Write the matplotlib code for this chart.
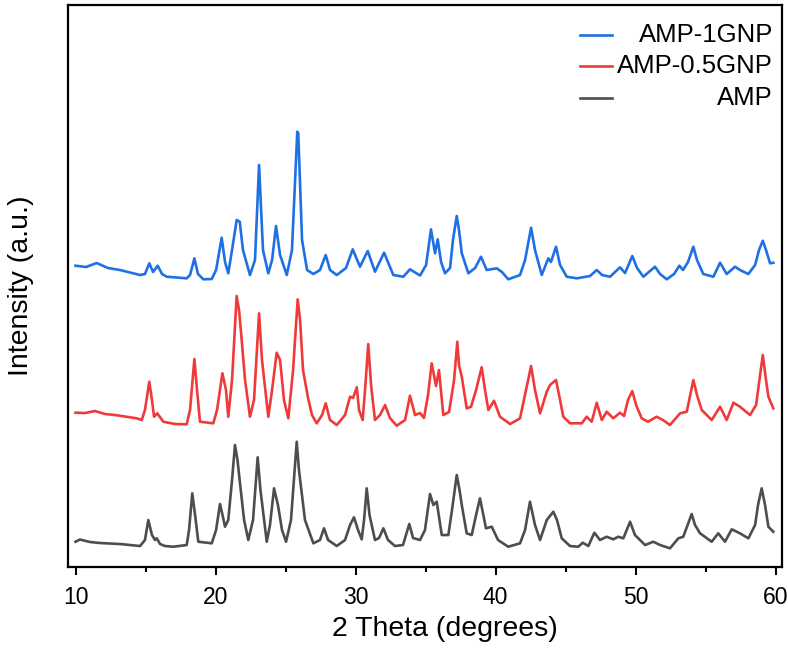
import matplotlib
matplotlib.use('Agg')
import matplotlib.pyplot as plt

plt.rcParams['font.family'] = ['Liberation Sans', 'DejaVu Sans']

# 2 theta (deg) and intensity (a.u., curves already stacked as in the figure)
theta_1gnp = [10.0, 10.75, 11.51, 12.32, 13.18, 14.61, 14.96, 15.27, 15.54, 15.87, 16.18, 16.51,
              17.94, 18.18, 18.49, 18.75, 19.13, 19.73, 20.04, 20.44, 20.68, 20.91, 21.18, 21.51,
              21.73, 21.96, 22.46, 22.82, 23.11, 23.39, 23.77, 24.04, 24.32, 24.61, 25.09, 25.46,
              25.84, 25.91, 26.18, 26.54, 26.99, 27.46, 27.87, 28.18, 28.66, 29.32, 29.80, 30.32,
              30.87, 31.39, 32.04, 32.70, 33.41, 33.89, 34.61, 35.04, 35.39, 35.68, 35.87, 36.11,
              36.39, 36.75, 36.96, 37.23, 37.39, 37.59, 38.06, 38.54, 38.96, 39.37, 40.09, 40.46,
              40.91, 41.75, 42.11, 42.54, 42.82, 43.30, 43.77, 43.96, 44.32, 44.61, 45.09, 45.80,
              46.75, 47.23, 47.61, 48.18, 48.89, 49.25, 49.77, 50.11, 50.56, 51.39, 51.75, 52.23,
              52.75, 53.13, 53.39, 53.75, 54.13, 54.39, 54.84, 55.56, 56.04, 56.51, 57.11, 57.46,
              58.06, 58.54, 58.82, 59.09, 59.32, 59.61, 59.84]
int_1gnp = [301.3, 300, 304, 299, 297, 292, 293, 303.7, 295, 301.3, 293, 290.3,
            288.7, 292, 308.7, 293, 287.7, 288, 297, 329.3, 305, 293.7, 317, 347,
            345.3, 317, 292, 307, 402, 317, 293.7, 307, 341, 312, 292, 317,
            435.3, 433.7, 327, 297, 293, 297, 312, 297, 292, 299, 317.7, 300.3,
            316, 295.3, 314.3, 292, 290.3, 297.7, 291.5, 302, 337.7, 313.7, 327.7, 305,
            293.7, 299, 327, 351, 337, 313.7, 293.7, 299, 310.3, 297, 298.7, 295,
            287.7, 292, 307, 339.3, 317, 292, 308.7, 305, 320.3, 302, 290.3, 288.7,
            291, 297, 292, 290.3, 299.7, 294, 311, 299, 290.3, 300.3, 293, 287.7,
            293, 301.3, 297, 305, 320.3, 307, 293, 290.3, 304.3, 293, 300.3, 297,
            293, 302, 317, 326.3, 317, 303.7, 304.3]

theta_05gnp = [10.0, 10.68, 11.39, 12.11, 12.82, 14.37, 14.73, 14.96, 15.27, 15.46, 15.61, 15.84,
               16.27, 17.11, 17.94, 18.18, 18.49, 18.68, 18.89, 19.84, 20.11, 20.49, 20.75, 20.91,
               21.18, 21.51, 21.68, 21.87, 22.11, 22.46, 22.75, 23.11, 23.32, 23.77, 24.04, 24.37,
               24.61, 24.89, 25.20, 25.54, 25.87, 26.04, 26.25, 26.46, 26.61, 26.89, 27.23, 27.61,
               27.87, 28.18, 28.66, 29.25, 29.61, 29.82, 30.09, 30.25, 30.51, 30.68, 30.91, 31.11,
               31.39, 31.75, 32.11, 32.46, 32.94, 33.54, 33.89, 34.25, 34.61, 34.89, 35.18, 35.44,
               35.75, 35.96, 36.27, 36.68, 37.04, 37.27, 37.39, 37.59, 37.94, 38.25, 38.61, 39.01,
               39.25, 39.49, 39.89, 40.32, 41.04, 41.75, 42.18, 42.54, 42.82, 43.18, 43.66, 43.89,
               44.32, 44.61, 44.84, 45.32, 46.16, 46.51, 46.87, 47.23, 47.59, 47.94, 48.41, 48.89,
               49.18, 49.46, 49.77, 50.04, 50.44, 50.89, 51.51, 51.96, 52.46, 53.18, 53.66, 54.13,
               54.39, 54.73, 55.44, 56.04, 56.51, 56.99, 57.46, 58.18, 58.61, 59.09, 59.32, 59.49,
               59.84]
int_05gnp = [154.3, 154, 156, 153, 152, 148.7, 147, 157, 185.3, 167, 150.3, 153.7,
             145.3, 143, 142.7, 157, 208, 177, 145.3, 143.7, 157, 193.7, 177, 150.3,
             187, 271, 257, 227, 187, 150.3, 167, 253.7, 207, 150.3, 177, 214.3,
             207, 167, 148.7, 197, 267.7, 247, 197, 180.3, 169, 152, 143.7, 152,
             163.7, 147, 142, 152, 170.3, 169, 179.7, 157, 147, 177, 223, 182,
             147, 152, 162, 149, 141.3, 147, 171.3, 152, 154, 149, 172, 203.7,
             181, 197, 152, 155, 187, 225.3, 202, 190.3, 158.7, 160.3, 177, 199.7,
             177, 157, 166.3, 150.3, 143, 148.7, 177, 201, 177, 153.7, 175.3, 182,
             187, 167, 150.3, 143.7, 143.7, 150.3, 145.3, 164.3, 147, 155.3, 148.7, 154.3,
             151, 167, 176, 162, 148.7, 145.3, 150.3, 147, 142, 153.7, 155.3, 187,
             172, 157, 147, 160.3, 147, 164.3, 160.3, 152, 162, 212, 187, 170.3,
             158.7]

theta_amp = [10.0, 10.32, 11.04, 11.75, 13.18, 14.61, 14.96, 15.20, 15.46, 15.68, 15.80, 16.04,
             16.39, 16.99, 17.94, 18.11, 18.34, 18.54, 18.77, 19.73, 20.04, 20.32, 20.50, 20.68,
             20.91, 21.18, 21.39, 21.57, 21.75, 22.04, 22.34, 22.68, 23.01, 23.21, 23.66, 23.89,
             24.18, 24.46, 24.75, 25.04, 25.39, 25.80, 25.96, 26.16, 26.39, 26.99, 27.46, 27.75,
             28.04, 28.66, 29.25, 29.61, 29.89, 30.18, 30.44, 30.61, 30.80, 31.00, 31.39, 31.68,
             31.99, 32.32, 32.82, 33.39, 33.84, 34.11, 34.61, 34.96, 35.32, 35.56, 35.80, 36.16,
             36.63, 36.89, 37.23, 37.43, 37.59, 37.94, 38.30, 38.61, 38.89, 39.32, 39.73, 40.18,
             40.91, 41.75, 42.11, 42.46, 42.82, 43.18, 43.66, 44.13, 44.39, 44.73, 45.32, 45.91,
             46.23, 46.63, 47.06, 47.46, 47.94, 48.41, 48.77, 49.13, 49.61, 49.96, 50.68, 51.27,
             51.75, 52.46, 53.06, 53.41, 54.01, 54.25, 54.61, 55.44, 55.91, 56.39, 56.87, 57.46,
             58.06, 58.54, 58.75, 59.01, 59.25, 59.49, 59.84]
int_amp = [25.3, 27.5, 25, 24, 23, 21, 27, 47, 32, 27, 28.7, 23,
           21, 20.3, 22, 37, 73.7, 52, 25.3, 23.7, 37, 63, 52, 40.3,
           47, 87, 122, 107, 83.7, 47, 27, 47, 109.7, 77, 25.3, 42,
           78.7, 62, 37, 25.3, 47, 125.3, 97, 73.7, 47, 23.7, 27, 38.7,
           27, 21, 27, 42, 49.7, 37, 27.7, 47, 78.7, 52, 27, 29,
           38.7, 27, 21, 22, 43, 29, 27, 37, 73, 62, 65.3, 32,
           32, 57, 92, 77, 62, 33.7, 32, 52, 68.7, 38.7, 40.3, 27,
           20.3, 23.7, 37, 65.3, 42, 27, 47, 55.3, 47, 28.7, 21, 20.3,
           24.3, 21, 34.3, 27, 30.3, 27.7, 30.3, 28.7, 45.3, 32, 22, 25.3,
           22, 18.7, 28.7, 30.3, 53, 42, 33.7, 25.3, 33.7, 25.3, 37.7, 33.7,
           28.7, 42, 62, 78.7, 62, 40.3, 35.3]

labels = ['AMP-1GNP', 'AMP-0.5GNP', 'AMP']
colors = ['#1f6fe5', '#f03a3a', '#4d4d4d']
xticks = [10, 20, 30, 40, 50, 60]

fig = plt.figure(figsize=(7.88, 6.51), dpi=100)
ax = fig.add_axes([0.0857, 0.1290, 0.9063, 0.8633])

series = [(theta_1gnp, int_1gnp), (theta_05gnp, int_05gnp), (theta_amp, int_amp)]
for (xs, ys), c in zip(series, colors):
    ax.plot(xs, ys, color=c, lw=1.9, solid_joinstyle='round')

ax.set_xlim(9.43, 60.44)
ax.set_ylim(0, 562)
ax.set_xticks(xticks)
ax.set_xticks(range(15, 60, 10), minor=True)
ax.set_yticks([])
ax.tick_params(axis='x', which='major', direction='out', length=6, width=1.5,
               labelsize=16.5, pad=8)
ax.tick_params(axis='x', which='minor', direction='out', length=3.8, width=1.5)
for sp in ax.spines.values():
    sp.set_linewidth(1.6)

ax.set_xlabel('2 Theta (degrees)', fontsize=20.5)
ax.xaxis.set_label_coords(0.528, -0.088)
ax.set_ylabel('Intensity (a.u.)', fontsize=20.5)
ax.yaxis.set_label_coords(-0.047, 0.5)

# legend: short line at left, label right-aligned (as in the original)
leg_rows = [0.946, 0.891, 0.834]
for lab, c, yy in zip(labels, colors, leg_rows):
    ax.plot([0.7176, 0.7624], [yy, yy], color=c, lw=1.9, transform=ax.transAxes)
    ax.text(0.9878, yy, lab, ha='right', va='center', fontsize=18.5,
            transform=ax.transAxes)

fig.savefig('out.png', dpi=100)
